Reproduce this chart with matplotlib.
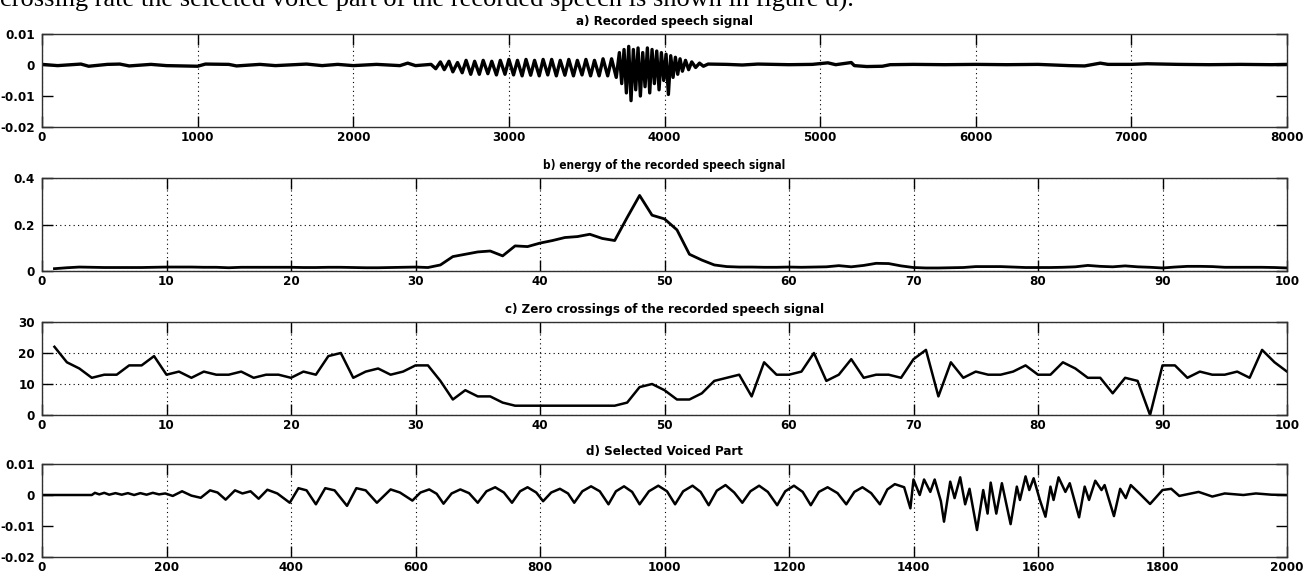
import matplotlib
matplotlib.use("Agg")
import matplotlib.pyplot as plt
from matplotlib import font_manager as fm
import numpy as np

# a) recorded speech signal: (sample, amplitude) turning points
sig_x = [0, 100, 250, 300, 420, 500, 560, 700, 800, 1000, 1050, 1200, 1250, 1400, 1500,
         1700, 1800, 1900, 2000, 2150, 2300, 2350, 2400, 2500,
         2530, 2560, 2585, 2615, 2640, 2670, 2700, 2725, 2755, 2780, 2810, 2835, 2865, 2890,
         2920, 2945, 2975, 3000, 3030, 3055, 3085, 3110, 3140, 3165, 3195, 3220, 3250, 3275,
         3305, 3330, 3360, 3385, 3415, 3440, 3470, 3495, 3525, 3550, 3580, 3605, 3635, 3660,
         3690,
         3710, 3725, 3740, 3755, 3770, 3785, 3800, 3815, 3830, 3845, 3860, 3875, 3890, 3905,
         3920, 3935, 3950, 3965, 3980, 3995, 4010, 4025, 4040, 4055, 4070, 4085, 4100, 4115,
         4135, 4155, 4175, 4200, 4225, 4250, 4280,
         4400, 4500, 4600, 4800, 4950, 5050, 5100, 5200, 5220, 5300, 5400, 5450, 5600, 5800,
         6000, 6200, 6400, 6600, 6700, 6800, 6850, 7000, 7100, 7300, 7500, 7700, 7900, 8000]
sig_y = [0.0002, -0.0002, 0.0003, -0.0004, 0.0002, 0.0003, -0.0003, 0.0002, -0.0002, -0.0004,
         0.0003, 0.0002, -0.0003, 0.0002, -0.0002, 0.0003, -0.0002, 0.0002, -0.0002, 0.0002,
         -0.0002, 0.0006, -0.0002, 0.0002,
         -0.0012, 0.001, -0.0015, 0.0012, -0.0022, 0.0008, -0.0025, 0.0015, -0.003, 0.0012,
         -0.003, 0.0015, -0.0028, 0.0012, -0.0032, 0.0015, -0.003, 0.0018, -0.0032, 0.0015,
         -0.0035, 0.0018, -0.0033, 0.0015, -0.0035, 0.0018, -0.0032, 0.0018, -0.0035, 0.0015,
         -0.0033, 0.0018, -0.0035, 0.0015, -0.0032, 0.0018, -0.0035, 0.0015, -0.0035, 0.002,
         -0.0035, 0.002, -0.004,
         0.004, -0.006, 0.005, -0.009, 0.006, -0.0115, 0.005, -0.008, 0.0055, -0.01, 0.004,
         -0.007, 0.0055, -0.009, 0.005, -0.006, 0.0045, -0.008, 0.004, -0.005, 0.0035, -0.0095,
         0.003, -0.004, 0.0025, -0.003, 0.002, -0.002, 0.0015, -0.0015, 0.001, -0.0008, 0.0006,
         -0.0004, 0.0003,
         0.0002, 0.0, 0.0003, 0.0001, 0.0002, 0.0007, 0.0001, 0.0008, -0.0002, -0.0005, -0.0004,
         0.0001, 0.0002, 0.0001, 0.0002, 0.0001, 0.0002, -0.0002, -0.0003, 0.0006, 0.0002,
         0.0002, 0.0004, 0.0002, 0.0001, 0.0002, 0.0001, 0.0002]

# b) short-time energy per frame
frames = list(range(1, 101))
energy = [0.010, 0.014, 0.017, 0.016, 0.015, 0.015, 0.015, 0.015, 0.016, 0.017,
          0.017, 0.017, 0.016, 0.016, 0.014, 0.016, 0.016, 0.016, 0.016, 0.016,
          0.015, 0.015, 0.016, 0.016, 0.015, 0.014, 0.014, 0.015, 0.016, 0.017,
          0.015, 0.026, 0.062, 0.072, 0.082, 0.086, 0.065, 0.108, 0.105, 0.120,
          0.131, 0.144, 0.148, 0.158, 0.140, 0.131, 0.230, 0.325, 0.240, 0.224,
          0.177, 0.072, 0.047, 0.026, 0.019, 0.017, 0.017, 0.016, 0.016, 0.017,
          0.016, 0.017, 0.018, 0.023, 0.018, 0.024, 0.033, 0.032, 0.022, 0.015,
          0.013, 0.013, 0.014, 0.015, 0.019, 0.019, 0.019, 0.017, 0.015, 0.015,
          0.015, 0.016, 0.018, 0.024, 0.020, 0.018, 0.022, 0.018, 0.016, 0.013,
          0.017, 0.020, 0.020, 0.019, 0.016, 0.016, 0.016, 0.016, 0.015, 0.013]

# c) zero crossings per frame
zcr = [22, 17, 15, 12, 13, 13, 16, 16, 19, 13,
       14, 12, 14, 13, 13, 14, 12, 13, 13, 12,
       14, 13, 19, 20, 12, 14, 15, 13, 14, 16,
       16, 11, 5, 8, 6, 6, 4, 3, 3, 3,
       3, 3, 3, 3, 3, 3, 4, 9, 10, 8,
       5, 5, 7, 11, 12, 13, 6, 17, 13, 13,
       14, 20, 11, 13, 18, 12, 13, 13, 12, 18,
       21, 6, 17, 12, 14, 13, 13, 14, 16, 13,
       13, 17, 15, 12, 12, 7, 12, 11, 0, 16,
       16, 12, 14, 13, 13, 14, 12, 21, 17, 14]

# d) selected voiced part: turning points and shoulders
voc_x = [0, 80, 85, 92, 100, 108, 118, 128, 138, 148, 158, 168, 178, 188, 198, 210, 225,
         240, 255, 270, 282, 295, 310, 322, 335, 348, 362, 378, 398, 412, 425, 440, 455,
         470, 490, 505, 520, 538, 560, 575, 595,
         608, 622, 634, 645, 658, 672, 686, 700, 714, 728, 742, 755, 768, 780, 794, 805,
         818, 832, 845, 855, 868, 882, 896, 910, 922, 935, 948, 960, 975, 990, 1004, 1017,
         1030, 1045, 1058, 1071, 1084, 1098, 1112, 1125, 1138, 1152, 1166, 1181, 1194, 1208,
         1222, 1235, 1248, 1262, 1278, 1292, 1305, 1318, 1332, 1346, 1358, 1370, 1385,
         1395, 1400, 1410, 1417, 1427, 1434, 1444,
         1449, 1459, 1466, 1475, 1483, 1490, 1502, 1512, 1519, 1524, 1533, 1542, 1556, 1566,
         1571, 1580, 1586, 1593, 1603, 1612, 1620, 1625, 1633, 1644, 1651, 1666, 1675, 1682,
         1692, 1702, 1707, 1722, 1732, 1741, 1749, 1763, 1780, 1800, 1814, 1827, 1858, 1880,
         1900, 1930, 1950, 1975, 2000]
voc_y = [0.0, 0.0, 0.0007, 0.0002, 0.0007, 0.0001, 0.0006, 0.0001, 0.0006, 0.0, 0.0006,
         0.0001, 0.0007, 0.0002, 0.0005, -0.0003, 0.0012, -0.0002, -0.0009, 0.0015, 0.0008,
         -0.0015, 0.0015, 0.0005, 0.0012, -0.0012, 0.0017, 0.0005, -0.0025, 0.0022, 0.0015,
         -0.003, 0.0022, 0.0015, -0.0035, 0.0022, 0.0015, -0.0025, 0.0018, 0.0008, -0.0018,
         0.0008, 0.0018, 0.0004, -0.0028, 0.0005, 0.0018, 0.0006, -0.0025, 0.0012, 0.0025,
         0.0008, -0.0025, 0.0012, 0.0025, 0.0008, -0.002,
         0.0008, 0.002, 0.0005, -0.0025, 0.0012, 0.0028, 0.0012, -0.003, 0.0012, 0.0028,
         0.0010, -0.003, 0.0012, 0.003, 0.0012, -0.003,
         0.0012, 0.003, 0.0010, -0.0033, 0.0014, 0.0032, 0.0008, -0.0025, 0.0012, 0.003,
         0.0010, -0.0033, 0.0012, 0.003, 0.0010, -0.0033, 0.0010, 0.0025, 0.0006, -0.003,
         0.0010, 0.0025, 0.0006, -0.003, 0.0018, 0.0035, 0.0025,
         -0.0043, 0.005, 0.0, 0.005, 0.001, 0.005, -0.002,
         -0.0086, 0.0043, -0.001, 0.0057, -0.003, 0.002, -0.0113, 0.0016, -0.006, 0.004,
         -0.006, 0.0038, -0.0094, 0.0027, -0.0016, 0.006, 0.0016, 0.0054, -0.0016, -0.007,
         0.0027, -0.0016, 0.0057, 0.001, 0.0038, -0.0072, 0.0027, -0.0016, 0.0046, 0.0016,
         0.0032, -0.0068, 0.002, -0.001, 0.0032, 0.0005, -0.0029, 0.0016, 0.002, -0.0003,
         0.001, -0.0005, 0.0005, 0.0, 0.0005, 0.0001, 0.0]

titles = ["a) Recorded speech signal",
          "b) energy of the recorded speech signal",
          "c) Zero crossings of the recorded speech signal",
          "d) Selected Voiced Part"]

# pick a narrow bold sans like the MATLAB export
available = {(f.name, f.stretch) for f in fm.fontManager.ttflist}
if any(n == 'Liberation Sans Narrow' for n, s in available):
    font_kw = dict(family='Liberation Sans Narrow')
    tsize, lsize = 10.5, 10.5
elif ('DejaVu Sans', 'condensed') in available:
    font_kw = dict(family='DejaVu Sans', stretch='condensed')
    tsize, lsize = 9.5, 9.5
elif any(n == 'Roboto Condensed' for n, s in available):
    font_kw = dict(family='Roboto Condensed')
    tsize, lsize = 10.5, 10.5
else:
    font_kw = dict(family='Roboto')
    tsize, lsize = 9.0, 8.8
title_sizes = [tsize, tsize * 0.9, tsize, tsize]

fig = plt.figure(figsize=(13.1, 5.74), dpi=100)
W, H = 1310, 574
left, right = 42, 1287
tops = [34, 178, 322, 464]
ph = 93

panels = [
    (sig_x, sig_y, (0, 8000), np.arange(0, 8001, 1000), (-0.02, 0.01),
     [-0.02, -0.01, 0, 0.01], ["-0.02", "-0.01", "0", "0.01"], False, 2.4),
    (frames, energy, (0, 100), np.arange(0, 101, 10), (0, 0.4),
     [0, 0.2, 0.4], ["0", "0.2", "0.4"], True, 2.0),
    (frames, zcr, (0, 100), np.arange(0, 101, 10), (0, 30),
     [0, 10, 20, 30], ["0", "10", "20", "30"], True, 1.8),
    (voc_x, voc_y, (0, 2000), np.arange(0, 2001, 200), (-0.02, 0.01),
     [-0.02, -0.01, 0, 0.01], ["-0.02", "-0.01", "0", "0.01"], False, 1.8),
]

for i, (xs, ys, xl, xt, yl, yt, ytl, ygrid, lw) in enumerate(panels):
    ax = fig.add_axes([left / W, 1 - (tops[i] + ph) / H, (right - left) / W, ph / H])
    ax.plot(xs, ys, color='black', lw=lw, solid_joinstyle='round')
    ax.set_xlim(*xl)
    ax.set_ylim(*yl)
    ax.set_xticks(xt)
    ax.set_xticklabels([str(int(v)) for v in xt], fontweight='bold', fontsize=lsize, **font_kw)
    ax.set_yticks(yt)
    ax.set_yticklabels(ytl, fontweight='bold', fontsize=lsize, **font_kw)
    ax.tick_params(direction='in', length=8, width=1, top=True, right=True,
                   pad=3, colors='black')
    ax.tick_params(axis='y', pad=5)
    ax.grid(axis='x', color='black', linestyle=(0, (1, 3)), lw=0.8)
    if ygrid:
        ax.grid(axis='y', color='black', linestyle=(0, (1, 3)), lw=0.8)
    for s in ax.spines.values():
        s.set_color('#303030')
        s.set_linewidth(1.0)
    fig.text(0.5 * (left + right) / W, 1 - (tops[i] - 13) / H, titles[i],
             ha='center', va='center', fontsize=title_sizes[i], fontweight='bold', **font_kw)

# clipped line of paper text above the figure
fig.text(0.0, 1 - 7 / H, "crossing rate the selected voice part of the recorded speech is shown in figure d).",
         ha='left', va='baseline', fontsize=19, family=['Liberation Serif', 'DejaVu Serif'])

fig.savefig("out.png", dpi=100)
